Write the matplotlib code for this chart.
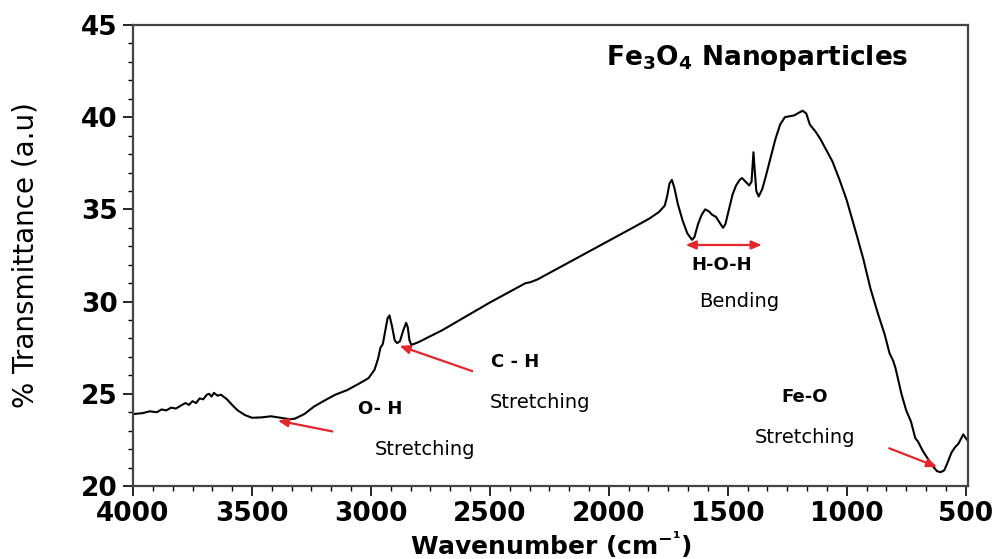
import matplotlib
matplotlib.use("Agg")
import matplotlib.pyplot as plt
from matplotlib.ticker import MultipleLocator, AutoMinorLocator

plt.rcParams['font.family'] = ['DejaVu Sans']
plt.rcParams['mathtext.default'] = 'regular'

# FTIR spectrum of Fe3O4 nanoparticles
wavenumber = [4000, 3960, 3930, 3900, 3880, 3860, 3840, 3820, 3800, 3780, 3765, 3750,
              3735, 3720, 3705, 3690, 3680, 3670, 3660, 3645, 3630, 3605, 3580, 3560,
              3530, 3500, 3460, 3420, 3380, 3340, 3320, 3280, 3240, 3200, 3150, 3100,
              3050, 3010, 2985, 2970, 2960, 2950, 2940, 2930, 2922, 2912, 2900, 2890,
              2878, 2865, 2852, 2845, 2838, 2830, 2800, 2700, 2600, 2500, 2400, 2350,
              2330, 2300, 2200, 2100, 2000, 1900, 1830, 1790, 1765, 1755, 1745, 1735,
              1725, 1710, 1690, 1670, 1650, 1640, 1625, 1610, 1595, 1580, 1565, 1550,
              1535, 1520, 1510, 1495, 1480, 1465, 1450, 1440, 1425, 1410, 1400, 1392,
              1386, 1380, 1370, 1355, 1340, 1320, 1300, 1280, 1260, 1240, 1220, 1200,
              1185, 1170, 1155, 1130, 1110, 1085, 1060, 1030, 1000, 960, 930, 900,
              870, 840, 820, 805, 795, 770, 750, 730, 712, 700, 680, 660,
              640, 620, 605, 590, 575, 560, 545, 530, 518, 510, 500, 493, 490]
transmittance = [23.9, 23.95, 24.05, 24.0, 24.15, 24.1, 24.25, 24.2, 24.35, 24.5, 24.4, 24.6,
                 24.5, 24.75, 24.7, 24.95, 25.0, 24.85, 25.05, 24.9, 24.95, 24.7, 24.35, 24.1,
                 23.85, 23.7, 23.72, 23.78, 23.7, 23.62, 23.65, 23.9, 24.3, 24.6, 24.95, 25.2,
                 25.55, 25.85, 26.3, 26.9, 27.5, 27.7, 28.4, 29.1, 29.25, 28.7, 27.9, 27.75,
                 27.85, 28.4, 28.85, 28.6, 27.9, 27.65, 27.8, 28.45, 29.2, 29.95, 30.65, 31.0,
                 31.05, 31.2, 31.9, 32.6, 33.3, 34.0, 34.5, 34.85, 35.2, 35.7, 36.4, 36.6,
                 36.2, 35.3, 34.4, 33.7, 33.35, 33.5, 34.2, 34.7, 35.0, 34.9, 34.7, 34.6,
                 34.3, 34.0, 34.2, 35.0, 35.8, 36.3, 36.6, 36.7, 36.5, 36.3, 36.5, 38.1,
                 37.0, 36.0, 35.7, 36.1, 36.8, 37.8, 38.8, 39.6, 40.0, 40.05, 40.1, 40.25,
                 40.35, 40.2, 39.6, 39.2, 38.8, 38.2, 37.6, 36.6, 35.5, 33.7, 32.3, 30.7,
                 29.4, 28.2, 27.2, 26.8, 26.4, 25.0, 24.1, 23.5, 22.6, 22.4, 21.9, 21.5,
                 21.1, 20.8, 20.75, 20.85, 21.3, 21.8, 22.1, 22.3, 22.6, 22.8, 22.6, 22.5, 22.4]

x_ticks = [4000, 3500, 3000, 2500, 2000, 1500, 1000, 500]
y_ticks = [20, 25, 30, 35, 40, 45]

fig = plt.figure(figsize=(9.95, 5.59), dpi=100)
ax = fig.add_axes([0.1337, 0.1306, 0.9729 - 0.1337, 0.9553 - 0.1306])

ax.plot(wavenumber, transmittance, color='black', lw=1.5)

ax.set_xlim(4000, 490)
ax.set_ylim(20, 45)
ax.set_xticks(x_ticks)
ax.set_yticks(y_ticks)
ax.xaxis.set_minor_locator(AutoMinorLocator(6))
ax.yaxis.set_minor_locator(MultipleLocator(1))
ax.tick_params(which='major', direction='out', length=7, width=1.2, labelsize=19, pad=4)
ax.tick_params(which='minor', direction='out', length=3.5, width=1.0)
for lab in ax.get_xticklabels() + ax.get_yticklabels():
    lab.set_fontweight('bold')
for sp in ax.spines.values():
    sp.set_color('#444444')
    sp.set_linewidth(1.6)

ax.set_xlabel('Wavenumber (cm$^{\u2212\u00b9}$)', fontsize=18, fontweight='bold')
ax.xaxis.set_label_coords(0.5, -0.097)
ax.set_ylabel('% Transmittance (a.u)', fontsize=20)
ax.yaxis.set_label_coords(-0.112, 0.5)

ax.text(1378, 43.2, 'Fe$_3$O$_4$ Nanoparticles', fontsize=19, fontweight='bold',
        ha='center', va='center')

red = '#e3262d'
ap = dict(arrowstyle='-|>,head_length=0.6,head_width=0.25', color=red, lw=1.6)
ax.annotate('', xy=(3403, 23.58), xytext=(3151, 22.93), arrowprops=ap)
ax.annotate('', xy=(2891, 27.65), xytext=(2563, 26.18), arrowprops=ap)
ax.annotate('', xy=(609, 20.98), xytext=(832, 22.1), arrowprops=ap)
ax.annotate('', xy=(1689, 33.07), xytext=(1345, 33.07),
            arrowprops=dict(arrowstyle='<|-|>,head_length=0.6,head_width=0.25', color=red, lw=1.6))

bold_kw = dict(fontsize=13, fontweight='bold', ha='center', va='center')
norm_kw = dict(fontsize=14, ha='center', va='center')
ax.text(2962, 24.2, 'O- H', **bold_kw)
ax.text(2773, 22.0, 'Stretching', **norm_kw)
ax.text(2395, 26.7, 'C - H', **bold_kw)
ax.text(2290, 24.55, 'Stretching', **norm_kw)
ax.text(1525, 32.0, 'H-O-H', **bold_kw)
ax.text(1450, 30.0, 'Bending', **norm_kw)
ax.text(1176, 24.8, 'Fe-O', **bold_kw)
ax.text(1176, 22.65, 'Stretching', **norm_kw)

fig.savefig('out.png', dpi=100)
